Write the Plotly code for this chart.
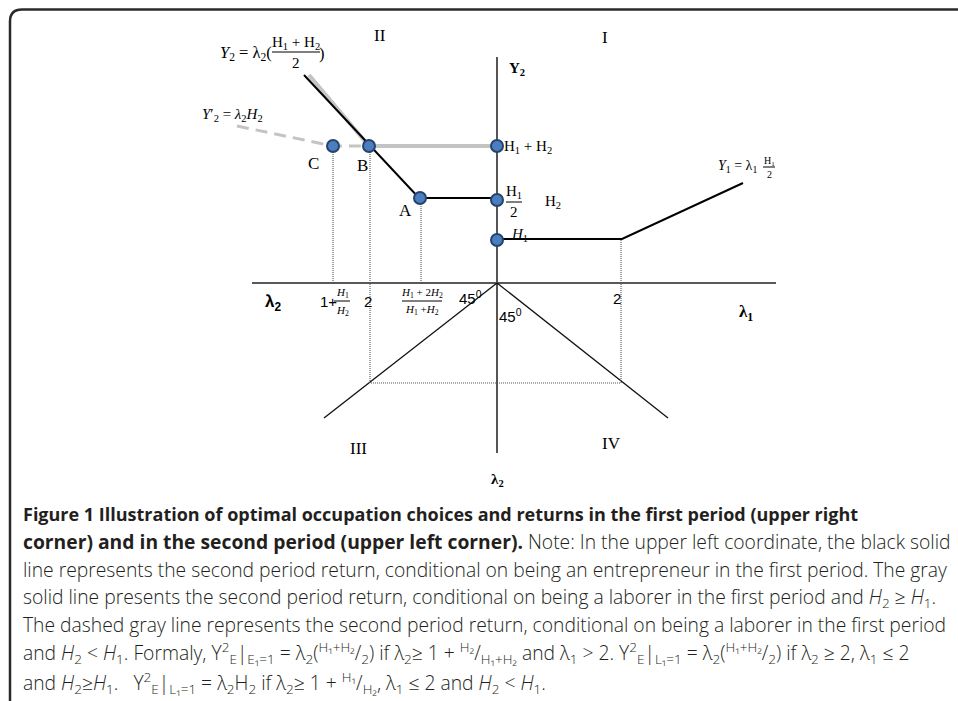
import plotly.graph_objects as go

# ---------------- diagram data (origin = crossing of the two axes) ----------------
X_RANGE = [-497, 461]
Y_RANGE = [-418, 283]

h_axis_x = [-245, 279]
h_axis_y = [0, 0]
v_axis_x = [0, 0]
v_axis_y = [226, -170]
diag_left_x = [0, -173]
diag_left_y = [0, -135]
diag_right_x = [0, 171]
diag_right_y = [0, -135]

# quadrant II returns
black2_x = [-193, -127, -78, 0]
black2_y = [208, 138, 85, 85]
gray_solid_x = [-188, -128, 0]
gray_solid_y = [208, 137, 137]
gray_dash_x = [-260, -164, -128]
gray_dash_y = [157, 137, 137]
# quadrant I return
black1_x = [0, 125, 246]
black1_y = [44, 44, 100]
# highlighted points: C, B, A, H1+H2, H1/2, H1
pt_x = [-164, -128, -77, 0, 0, 0]
pt_y = [137, 137, 85, 137, 83, 43]
# dotted guides
guide_x = [-164, -164, None, -127, -127, 124, 124, None, -76, -76]
guide_y = [137, 0, None, 137, -100, -100, 44, None, 85, 0]

# frame of the figure panel
frame_left = -487
frame_top = 273.5
frame_r = 12

SERIF = "Liberation Serif"
SANS = "Liberation Sans"

# plain labels: (text, x, y, size, family, anchor)
labels = [
    ("II", -117, 248, 17, SERIF, "center"),
    ("I", 108, 246, 17, SERIF, "center"),
    ("<b>Y<sub>2</sub></b>", 20, 214, 15, SERIF, "center"),
    ("H<sub>1</sub> + H<sub>2</sub>", 5, 136, 15, SERIF, "left"),
    ("H<sub>2</sub>", 56, 81, 15, SERIF, "center"),
    ("<i>H</i><sub>1</sub>", 12, 48, 15, SERIF, "left"),
    ("<i>Y</i><sub>1</sub> = λ<sub>1</sub>", 240, 117, 14, SERIF, "center"),
    ("<i>Y</i><sub>2</sub> = λ<sub>2</sub>(", -223, 230, 16.5, SERIF, "right"),
    (")", -175, 230, 16.5, SERIF, "center"),
    ("<i>Y</i>′<sub>2</sub> = <i>λ</i><sub>2</sub><i>H</i><sub>2</sub>", -265, 168, 15, SERIF, "center"),
    ("C", -184, 120, 17, SERIF, "center"),
    ("B", -135, 118, 17, SERIF, "center"),
    ("A", -92, 73, 17, SERIF, "center"),
    ("<b>λ<sub>2</sub></b>", -224, -20, 17, SANS, "center"),
    ("1+", -169, -18, 15, SANS, "center"),
    ("2", -129, -18, 15, SANS, "center"),
    ("45<sup>0</sup>", -27, -14, 15, SANS, "center"),
    ("45<sup>0</sup>", 13, -32, 15, SANS, "center"),
    ("2", 120, -15, 15, SANS, "center"),
    ("<b>λ<sub>1</sub></b>", 249, -30, 17, SERIF, "center"),
    ("III", -139, -165, 17, SERIF, "center"),
    ("IV", 114, -160, 17, SERIF, "center"),
    ("<b>λ<sub>2</sub></b>", 0, -197, 15, SERIF, "center"),
]

# stacked fractions: (numerator, denominator, x centre, y num, y den, y bar, bar half width, size)
fractions = [
    ("H<sub>1</sub> + H<sub>2</sub>", "2", -201, 240, 220, 231, 24, 15),
    ("H<sub>1</sub>", "2", 17, 91, 71, 81, 8, 15),
    ("H<sub>1</sub>", "2", 272, 122, 109, 116, 6, 10),
    ("<i>H</i><sub>1</sub>", "<i>H</i><sub>2</sub>", -155, -10, -28, -18, 8, 11),
    ("<i>H</i><sub>1</sub> + 2<i>H</i><sub>2</sub>", "<i>H</i><sub>1</sub> +<i>H</i><sub>2</sub>", -75, -10, -27, -18, 20, 11),
]

# caption
caption_x = -476
caption_y = [-231, -258, -286, -314, -341, -370, -400]
caption_lines = [
    "<b>Figure 1 Illustration of optimal occupation choices and returns in the first period (upper right</b>",
    "<b>corner) and in the second period (upper left corner).</b> Note: In the upper left coordinate, the black solid",
    "line represents the second period return, conditional on being an entrepreneur in the first period. The gray",
    "solid line presents the second period return, conditional on being a laborer in the first period and <i>H</i><sub>2</sub> ≥ <i>H</i><sub>1</sub>.",
    "The dashed gray line represents the second period return, conditional on being a laborer in the first period",
    "and <i>H</i><sub>2</sub> &lt; <i>H</i><sub>1</sub>. Formaly, Y<sup>2</sup><sub>E</sub>|<sub>E₁=1</sub> = λ<sub>2</sub>(<sup>H₁+H₂</sup>/<sub>2</sub>) if λ<sub>2</sub>≥ 1 + <sup>H₂</sup>/<sub>H₁+H₂</sub> and λ<sub>1</sub> &gt; 2. Y<sup>2</sup><sub>E</sub>|<sub>L₁=1</sub> = λ<sub>2</sub>(<sup>H₁+H₂</sup>/<sub>2</sub>) if λ<sub>2</sub> ≥ 2, λ<sub>1</sub> ≤ 2",
    "and <i>H</i><sub>2</sub>≥<i>H</i><sub>1</sub>.&nbsp;&nbsp; Y<sup>2</sup><sub>E</sub>|<sub>L₁=1</sub> = λ<sub>2</sub>H<sub>2</sub> if λ<sub>2</sub>≥ 1 + <sup>H₁</sup>/<sub>H₂</sub>, λ<sub>1</sub> ≤ 2 and <i>H</i><sub>2</sub> &lt; <i>H</i><sub>1</sub>.",
]

# ---------------- figure ----------------
fig = go.Figure()


def line(xs, ys, color, width, dash="solid"):
    fig.add_trace(go.Scatter(x=xs, y=ys, mode="lines", hoverinfo="skip",
                             line=dict(color=color, width=width, dash=dash)))


line(h_axis_x, h_axis_y, "#222222", 1.5)
line(v_axis_x, v_axis_y, "#555555", 2)
line(diag_left_x, diag_left_y, "#111111", 1.3)
line(diag_right_x, diag_right_y, "#111111", 1.3)
line(guide_x, guide_y, "#555555", 1.1, "1px,1px")
line(gray_dash_x, gray_dash_y, "#c4c4c4", 3, "12px,7px")
line(gray_solid_x, gray_solid_y, "#c4c4c4", 4)
line(black2_x, black2_y, "#000000", 2)
line(black1_x, black1_y, "#000000", 2)

fig.add_trace(go.Scatter(x=pt_x, y=pt_y, mode="markers", hoverinfo="skip",
                         marker=dict(size=12, color="#4a7ebf",
                                     line=dict(color="#24446e", width=2))))

for text, x, y, size, fam, anchor in labels:
    fig.add_annotation(x=x, y=y, text=text, showarrow=False, xanchor=anchor, yanchor="middle",
                       font=dict(family=fam, size=size, color="#000000"))

for num, den, xc, yn, yd, yb, hw, size in fractions:
    fig.add_annotation(x=xc, y=yn, text=num, showarrow=False, xanchor="center", yanchor="middle",
                       font=dict(family=SERIF, size=size, color="#000000"))
    fig.add_annotation(x=xc, y=yd, text=den, showarrow=False, xanchor="center", yanchor="middle",
                       font=dict(family=SERIF, size=size, color="#000000"))
    fig.add_shape(type="line", x0=xc - hw, x1=xc + hw, y0=yb, y1=yb, xref="x", yref="y",
                  line=dict(color="#000000", width=1))

for i, (text, y) in enumerate(zip(caption_lines, caption_y)):
    fig.add_annotation(x=caption_x, y=y, text=text, showarrow=False, xanchor="left", yanchor="middle",
                       font=dict(family="Open Sans", size=18 if i == 0 else 19.3,
                                 color="#231f20", weight=300))

frame_path = (f"M {frame_left},{Y_RANGE[0]} L {frame_left},{frame_top - frame_r} "
              f"Q {frame_left},{frame_top} {frame_left + frame_r},{frame_top} L {X_RANGE[1]},{frame_top}")
fig.add_shape(type="path", path=frame_path, xref="x", yref="y",
              line=dict(color="#2a2a2a", width=2.5))

fig.update_layout(
    width=958, height=701,
    margin=dict(l=0, r=0, t=0, b=0),
    paper_bgcolor="white", plot_bgcolor="white",
    showlegend=False,
    xaxis=dict(range=X_RANGE, visible=False, fixedrange=True),
    yaxis=dict(range=Y_RANGE, visible=False, fixedrange=True),
)

fig.write_html("out.html",
               config={"displayModeBar": False, "staticPlot": True},
               post_script="document.body.style.margin='0';document.body.style.padding='0';"
                           "document.body.style.overflow='hidden';")
